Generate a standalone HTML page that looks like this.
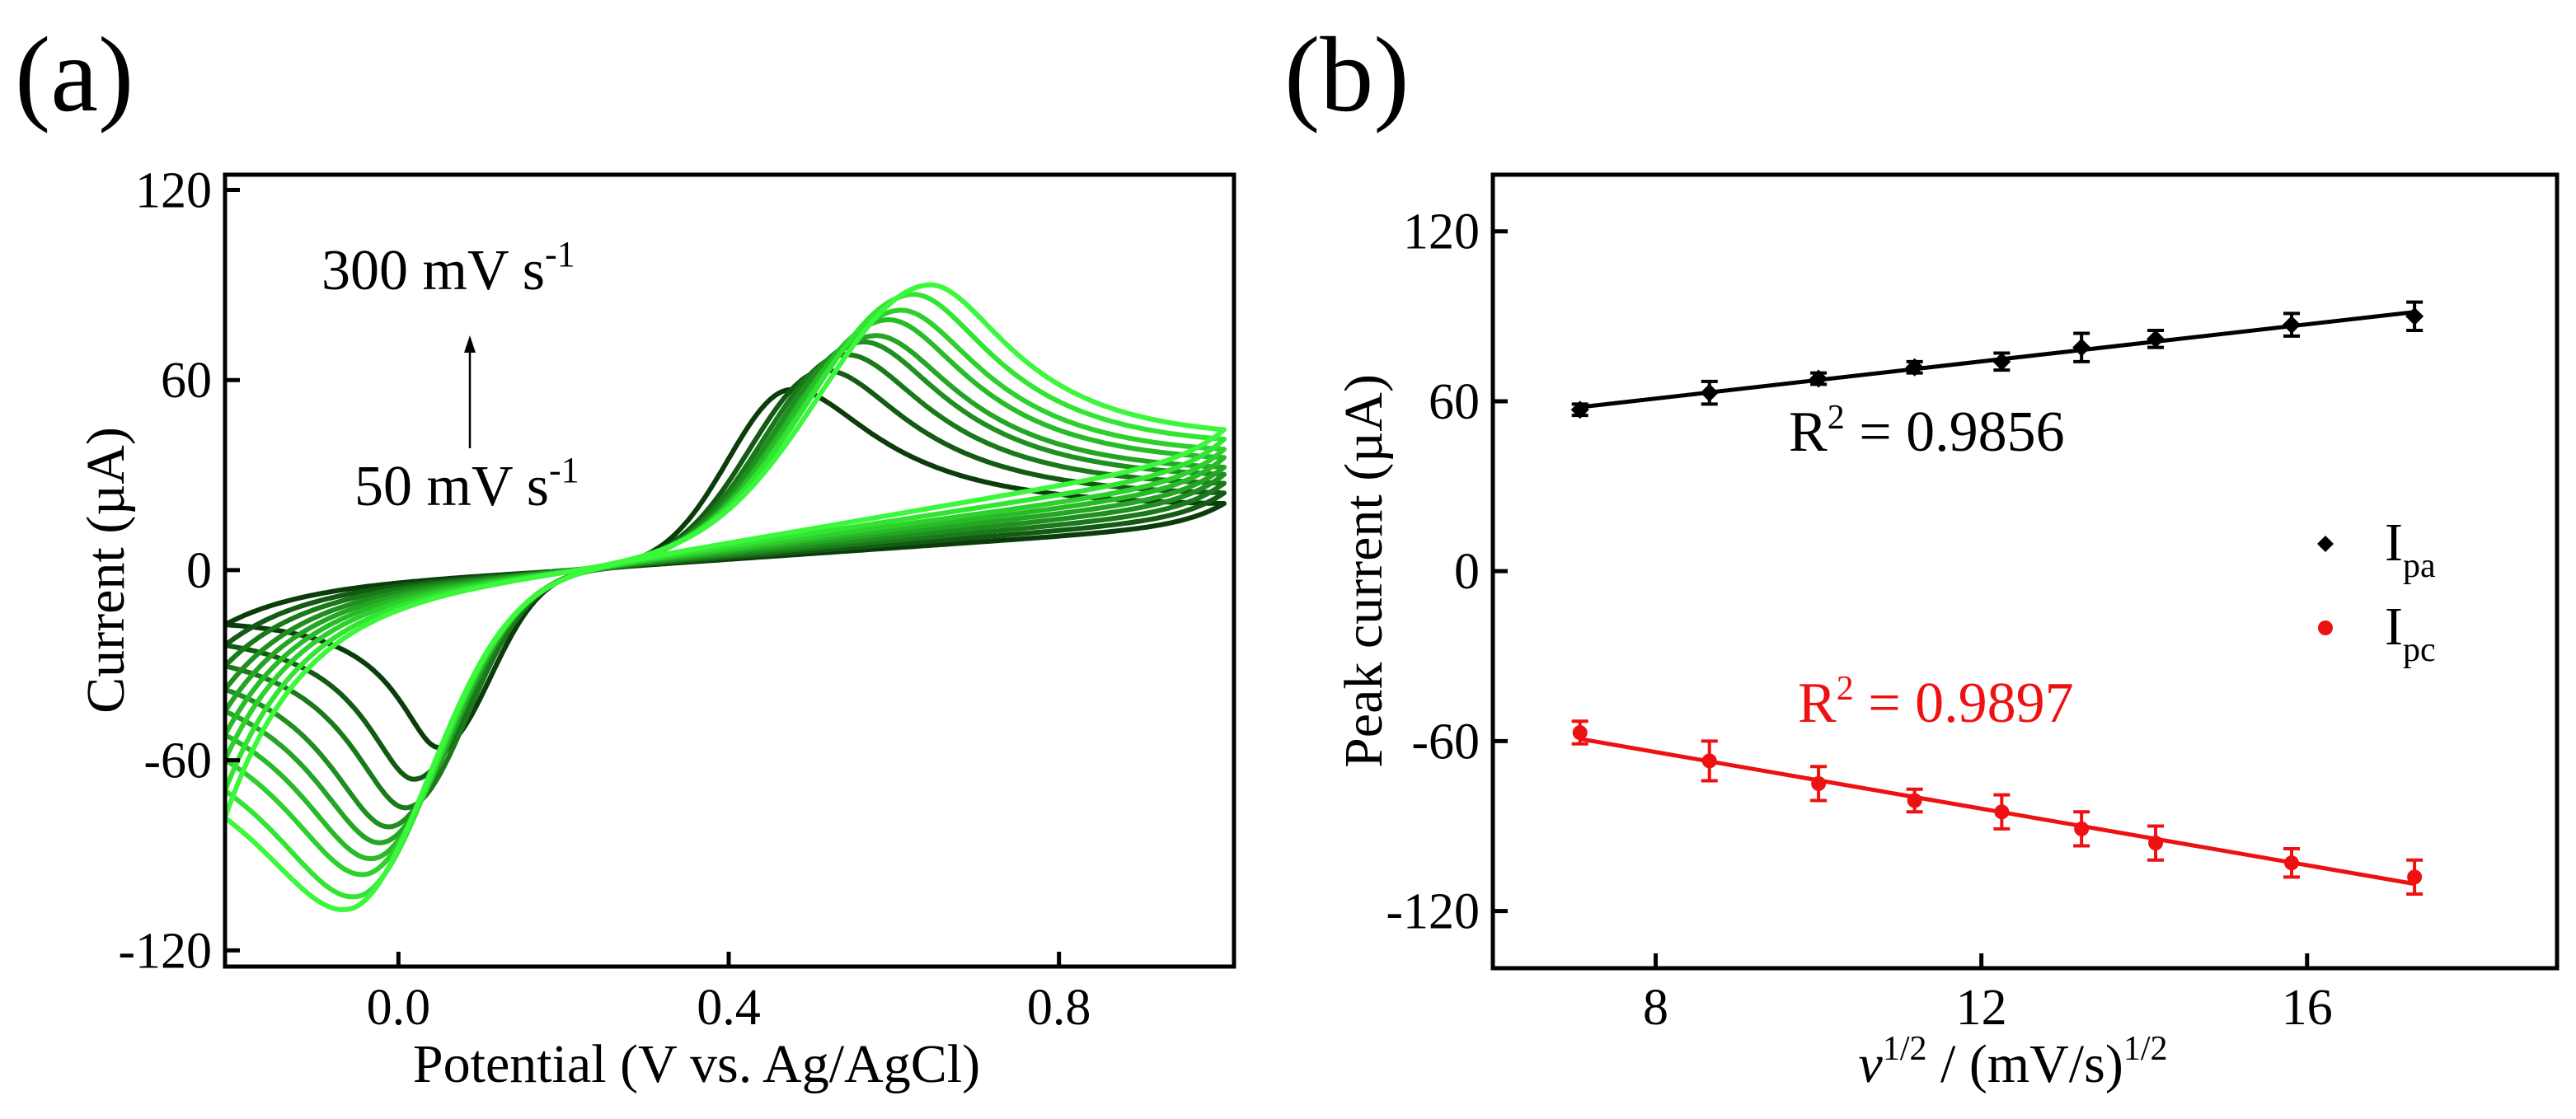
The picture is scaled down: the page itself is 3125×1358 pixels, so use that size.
<!DOCTYPE html>
<html><head><meta charset="utf-8"><style>
html,body{margin:0;padding:0;background:#fff;overflow:hidden;}
svg{display:block;font-family:"Liberation Serif",serif;}
</style></head><body>
<svg id="fig" width="3125" height="1358" viewBox="0 0 3125 1358" xmlns="http://www.w3.org/2000/svg">
<g id="pa"></g>
<g id="pb"></g>
</svg>
<script>
// ---------- Panel (a) data: CV curves ----------
const scanRates = [50, 75, 100, 125, 150, 175, 200, 250, 300];
const anodicPeakE = [0.475, 0.515, 0.54, 0.56, 0.575, 0.59, 0.605, 0.62, 0.64];
const anodicPeakI = [57, 63, 68, 72, 74, 79, 82, 87, 90];
const cathodicPeakE = [0.05, 0.02, 0.01, -0.01, -0.02, -0.03, -0.04, -0.05, -0.06];
const cathodicPeakI = [-56, -66, -75, -81, -86, -91, -96, -103, -107];
const anodicSlope = [14, 16, 18, 20, 22, 24, 26, 28, 30];
const cathodicSlope = [18, 21, 24, 27, 30, 33, 36, 40, 45];
const cathodicTailW = [0.048, 0.057, 0.066, 0.075, 0.084, 0.093, 0.102, 0.111, 0.12];
const curveColors = ["#0b3d0b","#135a13","#1a7a1a","#1f8f1f","#24a524","#28bb28","#2dd02d","#33e533","#3cf83c"];
const aXTicks = [0.0, 0.4, 0.8];
const aXTickLabels = ["0.0", "0.4", "0.8"];
const aYTicks = [-120, -60, 0, 60, 120];
const aYTickLabels = ["-120", "-60", "0", "60", "120"];

// ---------- Panel (b) data ----------
const sqrtRate = [7.07, 8.66, 10.0, 11.18, 12.25, 13.23, 14.14, 15.81, 17.32];
const ipaValues = [57, 63, 68, 72, 74, 79, 82, 87, 90];
const ipaErr = [2, 4, 2, 2, 3, 5, 3, 4, 5];
const ipcValues = [-57, -67, -75, -81, -85, -91, -96, -103, -108];
const ipcErr = [4, 7, 6, 4, 6, 6, 6, 5, 6];
const bXTicks = [8, 12, 16];
const bXTickLabels = ["8", "12", "16"];
const bYTicks = [-120, -60, 0, 60, 120];
const bYTickLabels = ["-120", "-60", "0", "60", "120"];

const NS = "http://www.w3.org/2000/svg";
function mk(parent, tag, attrs, text) {
  const e = document.createElementNS(NS, tag);
  for (const k in attrs) e.setAttribute(k, attrs[k]);
  if (text !== undefined) e.textContent = text;
  parent.appendChild(e);
  return e;
}

// ===== Panel A =====
const A = {l:273, r:1497, t:212, b:1173, x0:-0.21, x1:1.012, y0:-125.1, y1:124.8};
const ax = v => A.l + (v - A.x0) / (A.x1 - A.x0) * (A.r - A.l);
const ay = v => A.b - (v - A.y0) / (A.y1 - A.y0) * (A.b - A.t);
const pa = document.getElementById('pa');

function shape(d, wr, wt){ return d <= 0 ? Math.exp(-(d/wr)*(d/wr)) : Math.pow(1 + (d/wt)*(d/wt), -0.5); }

const curvesG = mk(pa, 'g', {});


const Emin = -0.21, Emax = 1.0, E0 = 0.21;
for (let i = 0; i < scanRates.length; i++) {
  const sa = anodicSlope[i], sc = cathodicSlope[i];
  const baseF = E => sa * (E - E0);
  const baseR = E => sc * (E - E0);
  const netA = anodicPeakI[i] - baseF(anodicPeakE[i]);
  const netC = cathodicPeakI[i] - baseR(cathodicPeakE[i]);
  const wrA = (anodicPeakE[i] - 0.24) / 2.2, wtA = 0.1;
  const wrC = (0.24 - cathodicPeakE[i]) / 2.2, wtC = cathodicTailW[i];
  const fwdRaw = E => baseF(E) + netA * shape(E - anodicPeakE[i], wrA, wtA);
  const revRaw = E => baseR(E) + netC * shape(cathodicPeakE[i] - E, wrC, wtC);
  const revEnd = revRaw(Emin), fwdStart = fwdRaw(Emin);
  const fwdEnd = fwdRaw(Emax);
  const pts = [];
  const N = 300;
  for (let k = 0; k <= N; k++) {
    const E = Emin + (Emax - Emin) * k / N;
    const I = fwdRaw(E) + (revEnd - fwdStart) * Math.exp(-(E - Emin) / 0.09);
    pts.push(ax(E).toFixed(1) + ',' + ay(I).toFixed(1));
  }
  const revStart = revRaw(Emax);
  for (let k = 0; k <= N; k++) {
    const E = Emax - (Emax - Emin) * k / N;
    const I = revRaw(E) + (fwdEnd - revStart) * Math.exp(-(Emax - E) / 0.05);
    pts.push(ax(E).toFixed(1) + ',' + ay(I).toFixed(1));
  }
  const pl = mk(curvesG, 'polyline', {points: pts.join(' '), fill:'none', stroke: curveColors[i], 'stroke-width': 6, 'stroke-linejoin':'round'});
  
  
}
const clipA = mk(pa, 'rect', {x:A.r+3, y:A.t, width:200, height:A.b-A.t, fill:'#fff'});


const frameA = mk(pa, 'rect', {x:A.l, y:A.t, width:A.r-A.l, height:A.b-A.t, fill:'none', stroke:'#000', 'stroke-width':5});


aYTicks.forEach((v, j) => {
  const tk = mk(pa, 'line', {x1:A.l, x2:A.l+18, y1:ay(v), y2:ay(v), stroke:'#000', 'stroke-width':5});
  
  
  const tl = mk(pa, 'text', {x:A.l-16, y:ay(v)+21, 'font-size':62, 'text-anchor':'end'}, aYTickLabels[j]);
  
  
});
aXTicks.forEach((v, j) => {
  const tk = mk(pa, 'line', {x1:ax(v), x2:ax(v), y1:A.b, y2:A.b-18, stroke:'#000', 'stroke-width':5});
  
  
  const tl = mk(pa, 'text', {x:ax(v), y:1243, 'font-size':62, 'text-anchor':'middle'}, aXTickLabels[j]);
  
  
});
</script>
<script>
(function(){
const pa = document.getElementById('pa');
pa.insertAdjacentHTML('beforeend',
 '<text x="18" y="134" font-size="130">(a)</text>' +
 '<text x="845" y="1313" font-size="66" text-anchor="middle">Potential (V vs. Ag/AgCl)</text>' +
 '<text transform="translate(150,692) rotate(-90)" font-size="66" text-anchor="middle">Current (µA)</text>' +
 '<text x="390" y="351" font-size="70">300 mV s<tspan dy="-28" font-size="44">-1</tspan></text>' +
 '<text x="430" y="613" font-size="70">50 mV s<tspan dy="-28" font-size="44">-1</tspan></text>' +
 '<line x1="570" y1="544" x2="570" y2="425" stroke="#000" stroke-width="2.5"/>' +
 '<polygon points="570,407 563,428 577,428" fill="#000"/>');
})();
</script>
<script>
(function(){
const NS = "http://www.w3.org/2000/svg";
function mk(parent, tag, attrs, text) {
  const e = document.createElementNS(NS, tag);
  for (const k in attrs) e.setAttribute(k, attrs[k]);
  if (text !== undefined) e.textContent = text;
  parent.appendChild(e);
  return e;
}
const B = {l:1811, r:3102, t:212, b:1175, x0:6.0, x1:19.07, y0:-140.2, y1:140};
const bx = v => B.l + (v - B.x0) / (B.x1 - B.x0) * (B.r - B.l);
const by = v => B.b - (v - B.y0) / (B.y1 - B.y0) * (B.b - B.t);
const pb = document.getElementById('pb');
const frame = mk(pb, 'rect', {x:B.l, y:B.t, width:B.r-B.l, height:B.b-B.t, fill:'none', stroke:'#000', 'stroke-width':5});


bYTicks.forEach((v, j) => {
  const tk = mk(pb, 'line', {x1:B.l, x2:B.l+18, y1:by(v), y2:by(v), stroke:'#000', 'stroke-width':5});
  
  
  const tl = mk(pb, 'text', {x:B.l-16, y:by(v)+21, 'font-size':62, 'text-anchor':'end'}, bYTickLabels[j]);
  
  
});
bXTicks.forEach((v, j) => {
  const tk = mk(pb, 'line', {x1:bx(v), x2:bx(v), y1:B.b, y2:B.b-18, stroke:'#000', 'stroke-width':5});
  
  
  const tl = mk(pb, 'text', {x:bx(v), y:1243, 'font-size':62, 'text-anchor':'middle'}, bXTickLabels[j]);
  
  
});
function fit(xs, ys){
  const n = xs.length; let sx=0, sy=0, sxx=0, sxy=0;
  for (let i=0;i<n;i++){ sx+=xs[i]; sy+=ys[i]; sxx+=xs[i]*xs[i]; sxy+=xs[i]*ys[i]; }
  const m = (n*sxy - sx*sy)/(n*sxx - sx*sx); return [m, (sy - m*sx)/n];
}
function series(vals, errs, color, name, marker){
  const g = mk(pb, 'g', {});
  
  
  const [m, c] = fit(sqrtRate, vals);
  const xa = sqrtRate[0], xb = sqrtRate[sqrtRate.length-1];
  const ln = mk(g, 'line', {x1:bx(xa), y1:by(m*xa+c), x2:bx(xb), y2:by(m*xb+c), stroke:color, 'stroke-width':5});
  
  
  for (let i=0;i<vals.length;i++){
    const X = bx(sqrtRate[i]), Yt = by(vals[i]+errs[i]), Yb = by(vals[i]-errs[i]);
    const eb = mk(g, 'path', {d:`M${X},${Yt}V${Yb}M${X-10},${Yt}H${X+10}M${X-10},${Yb}H${X+10}`, stroke:color, 'stroke-width':4, fill:'none'});
    
    
    const Y = by(vals[i]);
    let p;
    if (marker === 'diamond') p = mk(g, 'polygon', {points:`${X},${Y-11} ${X+11},${Y} ${X},${Y+11} ${X-11},${Y}`, fill:color});
    else p = mk(g, 'circle', {cx:X, cy:Y, r:9, fill:color});
    
    
  }
}
series(ipaValues, ipaErr, '#000', 'ipa', 'diamond');
series(ipcValues, ipcErr, '#ee1111', 'ipc', 'circle');
pb.insertAdjacentHTML('beforeend',
 '<text x="1558" y="134" font-size="130">(b)</text>' +
 '<text x="2170" y="547" font-size="70">R<tspan dy="-27" font-size="42">2</tspan><tspan dy="27"> = 0.9856</tspan></text>' +
 '<text x="2181" y="876" font-size="70" fill="#ee1111">R<tspan dy="-27" font-size="42">2</tspan><tspan dy="27"> = 0.9897</tspan></text>' +
 '<g>' +
 '<polygon points="2821,650 2831,660 2821,670 2811,660" fill="#000"/>' +
 '<text x="2893" y="680" font-size="66">I<tspan dy="20" font-size="42">pa</tspan></text>' +
 '<circle cx="2821" cy="762" r="9" fill="#ee1111"/>' +
 '<text x="2893" y="782" font-size="66">I<tspan dy="20" font-size="42">pc</tspan></text></g>' +
 '<text x="2442" y="1313" font-size="66" text-anchor="middle"><tspan font-style="italic">v</tspan><tspan dy="-27" font-size="42">1/2</tspan><tspan dy="27"> / (mV/s)</tspan><tspan dy="-27" font-size="42">1/2</tspan></text>' +
 '<text transform="translate(1676,693) rotate(-90)" font-size="66" text-anchor="middle">Peak current (µA)</text>');
})();
</script>
</body></html>
